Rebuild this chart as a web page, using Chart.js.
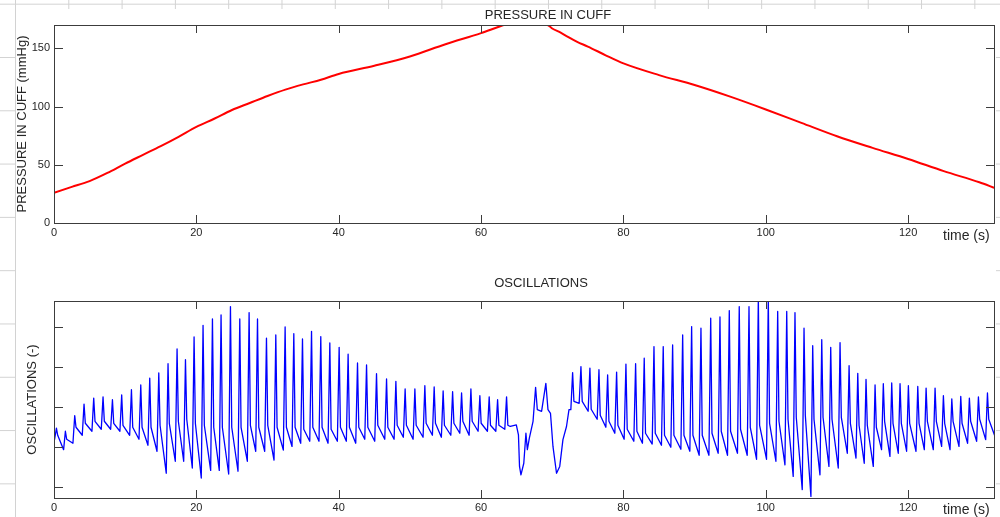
<!DOCTYPE html>
<html>
<head>
<meta charset="utf-8">
<script src="https://cdn.jsdelivr.net/npm/chart.js@4.4.1/dist/chart.umd.min.js"></script>
<style>
  html, body { margin: 0; padding: 0; }
  body {
    width: 1000px; height: 517px; overflow: hidden; position: relative; background: #fff;
    background-image: linear-gradient(to right, #d2d2d2 1px, transparent 1px),
                      linear-gradient(to bottom, #d2d2d2 1px, transparent 1px);
    background-size: 53.3px 53.3px;
    background-position: 15px 3.7px;
  }
  #fig { position: absolute; left: 16px; top: 9px; width: 980px; height: 508px; background: #fff; }
  canvas { position: absolute; left: 0; }
  #pressChart { top: 0; }
  #oscChart { top: 258px; }
</style>
</head>
<body>
<div id="fig"></div>
<canvas id="pressChart" width="1000" height="258"></canvas>
<canvas id="oscChart" width="1000" height="259"></canvas>
<script>
// ---- pressure in cuff (mmHg) vs time (s)
const pressTime = [0, 2.5, 5, 7.5, 10, 12.5, 15, 17.5, 20, 22.5, 25, 27.5, 30, 32.5, 35, 37.5, 40, 45, 50, 55,
  60, 62.5, 64, 66, 68, 69.5, 70, 71, 72, 73.5, 75, 77.5, 80, 85, 90, 95, 100, 105, 110, 115, 120, 125, 130, 132.2];
const pressCuff = [26, 31, 36, 43, 51, 58.5, 66, 74, 82.5, 89.5, 97, 103, 109, 114.5, 119, 123, 128, 135, 143, 153.5,
  163, 168.5, 171.5, 172, 172, 169.5, 167, 164, 160.5, 155.5, 151.5, 144, 137, 127, 118.5, 108.5, 97.5, 86, 74.5, 64.5, 55, 44.5, 35, 30];

// ---- oscillations: one entry per heart beat
const beatTime = [0.34, 1.60, 2.91, 4.22, 5.58, 6.89, 8.21, 9.51, 10.88, 12.19, 13.45, 14.72, 16.02, 17.29, 18.47, 19.68,
  20.94, 22.26, 23.47, 24.79, 26.10, 27.41, 28.59, 29.85, 31.16, 32.47, 33.69, 34.91, 36.18, 37.48, 38.75, 40.06,
  41.32, 42.64, 43.91, 45.31, 46.72, 48.03, 49.33, 50.70, 52.10, 53.41, 54.67, 56.00, 57.26, 58.57, 59.83, 61.14,
  62.32, 63.58,
  72.86, 74.03, 75.29, 76.56, 77.78, 79.04, 80.35, 81.71, 82.92, 84.29, 85.59, 86.91, 88.32, 89.58, 90.89, 92.26,
  93.56, 94.87, 96.27, 97.64, 98.95, 100.35, 101.67, 102.94, 104.10, 105.37, 106.59, 107.86, 109.12, 110.43, 111.70,
  112.92, 114.08, 115.35, 116.51, 117.69, 118.86, 120.03, 121.35, 122.52, 123.78, 124.95, 126.13, 127.39, 128.60,
  129.87, 131.14];
const beatPeak = [-0.52, -0.60, -0.21, 0.08, 0.23, 0.26, 0.19, 0.31, 0.44, 0.56, 0.73, 0.86, 1.09, 1.46, 1.19, 1.76,
  2.05, 2.21, 2.31, 2.52, 2.21, 2.37, 2.21, 1.73, 1.81, 2.01, 1.84, 1.71, 1.90, 1.77, 1.61, 1.50,
  1.33, 1.11, 1.06, 0.84, 0.71, 0.65, 0.46, 0.46, 0.54, 0.51, 0.41, 0.39, 0.36, 0.46, 0.29, 0.26,
  0.19, 0.26,
  0.87, 1.02, 0.98, 0.94, 0.81, 0.88, 1.08, 1.09, 1.23, 1.52, 1.52, 1.56, 1.81, 2.02, 1.98, 2.23,
  2.26, 2.42, 2.52, 2.52, 2.75, 2.75, 2.40, 2.40, 2.37, 1.98, 1.54, 1.69, 1.50, 1.62, 1.04,
  0.85, 0.70, 0.56, 0.59, 0.61, 0.59, 0.54, 0.52, 0.48, 0.48, 0.29, 0.21, 0.27, 0.23,
  0.26, 0.36];
const beatFoot = [-0.80, -1.06, -0.90, -0.70, -0.60, -0.55, -0.55, -0.60, -0.70, -0.80, -0.95, -1.10, -1.65, -1.35, -1.35, -1.52,
  -1.77, -1.58, -1.58, -1.67, -1.60, -1.35, -1.10, -1.10, -1.32, -1.07, -0.98, -0.90, -0.85, -0.85, -0.90, -0.85,
  -0.85, -0.90, -0.80, -0.85, -0.80, -0.80, -0.75, -0.80, -0.75, -0.70, -0.75, -0.70, -0.65, -0.70, -0.60, -0.60,
  -0.60, -0.55,
  -0.06, 0.10, -0.10, -0.30, -0.50, -0.65, -0.80, -0.85, -0.90, -0.92, -0.95, -1.00, -1.05, -1.10, -1.20, -1.20,
  -1.15, -1.20, -1.15, -1.20, -1.30, -1.30, -1.35, -1.44, -1.73, -2.06, -2.23, -1.69, -1.48, -1.52, -1.15,
  -1.27, -1.40, -1.48, -1.06, -1.23, -1.15, -1.10, -1.10, -1.06, -1.06, -0.98, -1.06, -0.98, -0.90,
  -0.85, -0.81];
const beatNotch = [-0.70, -0.80, -0.50, -0.40, -0.35, -0.35, -0.40, -0.45, -0.50, -0.50, -0.50, -0.45, -0.40, -0.35, -0.30, -0.40,
  -0.45, -0.50, -0.50, -0.50, -0.50, -0.45, -0.50, -0.45, -0.50, -0.50, -0.50, -0.55, -0.50, -0.50, -0.55, -0.50,
  -0.50, -0.50, -0.50, -0.45, -0.50, -0.45, -0.45, -0.45, -0.40, -0.40, -0.45, -0.40, -0.35, -0.35, -0.40, -0.45,
  -0.45, -0.45,
  0.15, 0.15, -0.05, -0.20, -0.35, -0.45, -0.55, -0.60, -0.65, -0.65, -0.70, -0.70, -0.70, -0.70, -0.70, -0.65,
  -0.60, -0.60, -0.55, -0.50, -0.45, -0.40, -0.35, -0.30, -0.25, -0.20, -0.30, -0.25, -0.30, -0.25, -0.40,
  -0.45, -0.45, -0.50, -0.35, -0.40, -0.40, -0.40, -0.40, -0.35, -0.35, -0.40, -0.35, -0.40, -0.35,
  -0.30, -0.30];

// irregular parts of the trace: start, movement artefact around 65-72 s, end
const traceTime = [0, 64.10, 64.95, 65.25, 65.40, 65.60, 66.00, 66.30, 66.50, 66.78, 67.30, 67.66, 67.90, 68.50,
  69.10, 69.40, 69.75, 70.10, 70.60, 71.05, 71.50, 72.00, 72.35, 132.2];
const traceValue = [-0.75, -0.48, -0.44, -0.69, -1.48, -1.69, -1.40, -0.65, -1.06, -0.77, -0.35, 0.50, -0.06, -0.10,
  0.60, -0.06, -0.15, -0.98, -1.65, -1.48, -0.81, -0.48, -0.06, -0.73];

const timeTicks = [0, 20, 40, 60, 80, 100, 120];
const pressTicks = [0, 50, 100, 150];
const oscTicks = [-2, -1, 0, 1, 2];

const FONT = '"Liberation Sans", Arial, sans-serif';
const TEXT = '#262626';

// matlab-like box: inward ticks on all four sides, labels, titles
const axesBox = {
  id: 'axesBox',
  afterDatasetsDraw(chart, args, o) {
    const { ctx, chartArea: a, scales: { x, y } } = chart;
    ctx.save();
    ctx.strokeStyle = '#3c3c3c';
    ctx.lineWidth = 1;
    ctx.strokeRect(a.left + 0.5, a.top + 0.5, a.right - a.left - 1, a.bottom - a.top);
    ctx.beginPath();
    o.xTicks.forEach(v => {
      const px = Math.round(x.getPixelForValue(v)) + 0.5;
      ctx.moveTo(px, a.bottom); ctx.lineTo(px, a.bottom - 8);
      ctx.moveTo(px, a.top); ctx.lineTo(px, a.top + 8);
    });
    o.yTicks.forEach(v => {
      const py = Math.round(y.getPixelForValue(v)) + 0.5;
      ctx.moveTo(a.left, py); ctx.lineTo(a.left + 9, py);
      ctx.moveTo(a.right, py); ctx.lineTo(a.right - 9, py);
    });
    ctx.stroke();

    ctx.fillStyle = TEXT;
    ctx.font = '11px ' + FONT;
    ctx.textAlign = 'center';
    ctx.textBaseline = 'middle';
    o.xTicks.forEach(v => ctx.fillText(String(v), x.getPixelForValue(v), a.bottom + 10));
    if (o.yLabels) {
      ctx.textAlign = 'right';
      o.yTicks.forEach(v => ctx.fillText(String(v), a.left - 4, y.getPixelForValue(v)));
    }

    ctx.font = '13px ' + FONT;
    ctx.textAlign = 'center';
    ctx.fillText(o.title, o.titleX, o.titleY);

    ctx.font = '14px ' + FONT;
    ctx.textAlign = 'left';
    ctx.fillText('time (s)', 943, a.bottom + o.xLabelDy);

    ctx.font = '13px ' + FONT;
    ctx.textAlign = 'center';
    ctx.translate(o.yLabelX, (a.top + a.bottom) / 2);
    ctx.rotate(-Math.PI / 2);
    ctx.fillText(o.yLabel, 0, 0);
    ctx.restore();
  }
};

const base = {
  responsive: false,
  animation: false,
  events: [],
  plugins: { legend: { display: false }, tooltip: { enabled: false } }
};

// Pressure chart
new Chart(document.getElementById('pressChart'), {
  type: 'line',
  data: {
    datasets: [{
      data: pressTime.map((t, i) => ({ x: t, y: pressCuff[i] })),
      borderColor: '#ff0000',
      borderWidth: 2,
      pointRadius: 0,
      cubicInterpolationMode: 'monotone',
      clip: 0
    }]
  },
  options: {
    ...base,
    layout: { padding: { left: 54, top: 25, right: 5, bottom: 35 } },
    plugins: {
      ...base.plugins,
      axesBox: {
        xTicks: timeTicks, yTicks: pressTicks, yLabels: true,
        title: 'PRESSURE IN CUFF', titleX: 548, titleY: 15,
        xLabelDy: 13, yLabel: 'PRESSURE IN CUFF (mmHg)', yLabelX: 22
      }
    },
    scales: {
      x: { type: 'linear', min: 0, max: 132.2, display: false },
      y: { type: 'linear', min: 0, max: 170, display: false }
    }
  },
  plugins: [axesBox]
});

// Oscillation trace built from the per-beat readings
const oscPoints = traceTime.map((t, i) => ({ x: t, y: traceValue[i] }));
beatTime.forEach((t, i) => {
  oscPoints.push({ x: t - 0.25, y: beatFoot[i] }, { x: t, y: beatPeak[i] }, { x: t + 0.18, y: beatNotch[i] });
});
oscPoints.sort((p, q) => p.x - q.x);

new Chart(document.getElementById('oscChart'), {
  type: 'line',
  data: {
    datasets: [{
      data: oscPoints,
      borderColor: '#0000ff',
      borderWidth: 1.3,
      borderJoinStyle: 'round',
      pointRadius: 0,
      tension: 0,
      clip: 0
    }]
  },
  options: {
    ...base,
    layout: { padding: { left: 54, top: 43, right: 5, bottom: 19 } },
    plugins: {
      ...base.plugins,
      axesBox: {
        xTicks: timeTicks, yTicks: oscTicks, yLabels: false,
        title: 'OSCILLATIONS', titleX: 541, titleY: 25,
        xLabelDy: 12, yLabel: 'OSCILLATIONS (-)', yLabelX: 32
      }
    },
    scales: {
      x: { type: 'linear', min: 0, max: 132.2, display: false },
      y: { type: 'linear', min: -2.27, max: 2.66, display: false }
    }
  },
  plugins: [axesBox]
});
</script>
</body>
</html>
